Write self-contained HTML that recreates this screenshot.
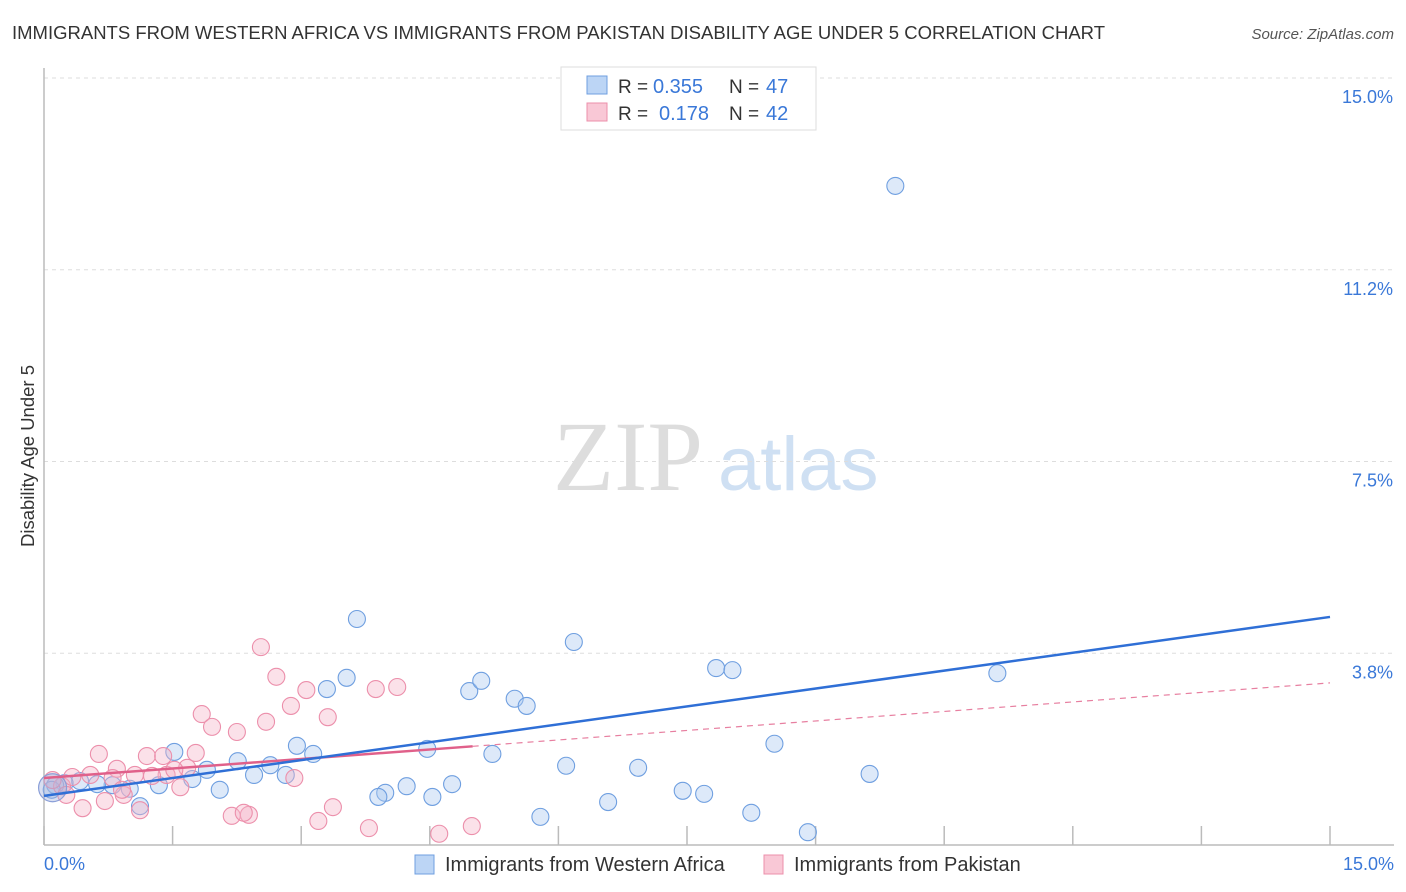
<!DOCTYPE html>
<html><head><meta charset="utf-8"><style>
body{margin:0;background:#fff;font-family:"Liberation Sans",sans-serif}
svg{display:block}
</style></head><body>
<svg width="1406" height="892">
<text x="12" y="39" font-size="18.5" fill="#333">IMMIGRANTS FROM WESTERN AFRICA VS IMMIGRANTS FROM PAKISTAN DISABILITY AGE UNDER 5 CORRELATION CHART</text>
<text x="1394" y="39" font-size="15" fill="#555" font-style="italic" text-anchor="end">Source: ZipAtlas.com</text>
<text x="553" y="490" font-size="100" fill="#ddd" font-family="Liberation Serif">ZIP</text>
<text x="718" y="490" font-size="76" fill="#cfe0f3">atlas</text>
<g id="grid"></g><g id="axes"></g><g id="marks"></g>
<text x="34" y="456" font-size="18.5" fill="#333" text-anchor="middle" transform="rotate(-90 34 456)">Disability Age Under 5</text>
<text x="44" y="870" font-size="18" fill="#3a78d8">0.0%</text>
<text x="1394" y="870" font-size="18" fill="#3a78d8" text-anchor="end">15.0%</text>
<g>
<rect x="561" y="67" width="255" height="63" fill="#fff" stroke="#ddd"/>
<rect x="587" y="76" width="20" height="18" fill="#bcd5f5" stroke="#6f9fe0"/>
<rect x="587" y="103" width="20" height="18" fill="#f9c8d6" stroke="#ec8fab"/>
<text x="618" y="93" font-size="19" fill="#333">R =</text>
<text x="653" y="93" font-size="20" fill="#3a78d8">0.355</text>
<text x="729" y="93" font-size="19" fill="#333">N =</text>
<text x="766" y="93" font-size="20" fill="#3a78d8">47</text>
<text x="618" y="120" font-size="19" fill="#333">R =</text>
<text x="659" y="120" font-size="20" fill="#3a78d8">0.178</text>
<text x="729" y="120" font-size="19" fill="#333">N =</text>
<text x="766" y="120" font-size="20" fill="#3a78d8">42</text>
</g>
<g>
<rect x="415" y="855" width="19" height="19" fill="#bcd5f5" stroke="#6f9fe0"/>
<text x="445" y="871" font-size="20" fill="#333">Immigrants from Western Africa</text>
<rect x="764" y="855" width="19" height="19" fill="#f9c8d6" stroke="#ec8fab"/>
<text x="794" y="871" font-size="20" fill="#333">Immigrants from Pakistan</text>
</g>
</svg>
<script>
const yTicks=[3.75,7.5,11.25,15];
const yTickLabels=["3.8%","7.5%","11.2%","15.0%"];
const xTicks=[0,1.5,3,4.5,6,7.5,9,10.5,12,13.5,15];
const blueX=[9.93,3.65,6.18,7.84,8.03,11.12,3.53,3.30,4.96,5.10,5.49,5.63,2.95,3.14,1.52,2.26,2.64,4.47,5.23,8.52,6.09,6.93,9.63,1.90,2.45,2.82,1.73,1.34,1.00,0.80,0.62,0.42,0.24,0.13,0.09,4.23,3.98,3.90,4.53,4.76,7.45,7.70,6.58,5.79,8.25,8.91,1.12,2.05];
const blueY=[12.89,4.42,3.97,3.46,3.42,3.36,3.27,3.05,3.01,3.21,2.86,2.72,1.94,1.78,1.82,1.64,1.56,1.88,1.78,1.98,1.55,1.51,1.39,1.47,1.37,1.37,1.29,1.17,1.10,1.17,1.19,1.25,1.21,1.17,1.08,1.15,1.02,0.94,0.94,1.19,1.06,1.00,0.84,0.55,0.63,0.25,0.76,1.08];
const pinkX=[2.53,2.71,3.06,3.87,4.12,2.88,1.84,3.31,2.59,2.25,1.96,0.64,1.20,1.39,1.77,1.67,1.06,0.85,0.80,1.43,1.59,1.26,0.21,0.10,0.26,0.45,0.71,0.93,1.12,3.37,3.20,2.39,2.19,2.33,3.79,4.61,4.99,2.92,1.52,0.33,0.54,0.91];
const pinkY=[3.87,3.29,3.03,3.05,3.09,2.72,2.56,2.50,2.41,2.21,2.31,1.78,1.74,1.74,1.80,1.51,1.37,1.49,1.31,1.37,1.13,1.35,1.15,1.27,0.98,0.72,0.86,0.98,0.68,0.74,0.47,0.59,0.57,0.63,0.33,0.22,0.37,1.31,1.47,1.33,1.37,1.08];
const blueTrend=[0.96,4.46];
const pinkTrend=[1.31,3.17];
const pinkSolidEnd=5.0;
const X=v=>44+v*(1330-44)/15, Y=v=>845-v*(845-78)/15;
const NS="http://www.w3.org/2000/svg";
function mk(tag,attrs,parent){const e=document.createElementNS(NS,tag);for(const k in attrs)e.setAttribute(k,attrs[k]);document.getElementById(parent).appendChild(e);return e;}
yTicks.forEach((t,i)=>{
 const l=mk('line',{x1:44,x2:1394,y1:Y(t),y2:Y(t),stroke:'#ddd','stroke-dasharray':'4 4'},'grid');
 
 
 const tx=mk('text',{x:1393,y:Y(t)+25,'font-size':18,fill:'#3a78d8','text-anchor':'end'},'grid');
 tx.textContent=yTickLabels[i];
 
 
});
const ya=mk('line',{x1:44,x2:44,y1:68,y2:845,stroke:'#bbb','stroke-width':1.5},'axes');


const xa=mk('line',{x1:44,x2:1394,y1:845,y2:845,stroke:'#bbb','stroke-width':1.5},'axes');


xTicks.forEach(t=>{
 const l=mk('line',{x1:X(t),x2:X(t),y1:826,y2:845,stroke:'#bbb','stroke-width':1.5},'axes');
 
 
});
blueX.forEach((x,i)=>{
 const c=mk('circle',{cx:X(x),cy:Y(blueY[i]),r:8.5,fill:'rgba(170,200,240,0.4)',stroke:'#6f9fe0','stroke-width':1.1},'marks');
 
 
});
pinkX.forEach((x,i)=>{
 const c=mk('circle',{cx:X(x),cy:Y(pinkY[i]),r:8.5,fill:'rgba(245,180,200,0.4)',stroke:'#ec8fab','stroke-width':1.1},'marks');
 
 
});
const big=mk('circle',{cx:X(0.1),cy:Y(1.12),r:14,fill:'rgba(160,175,220,0.4)',stroke:'#8a9fd8','stroke-width':1.2},'marks');


const py=x=>pinkTrend[0]+(pinkTrend[1]-pinkTrend[0])*x/15;
const pd=mk('line',{x1:X(pinkSolidEnd),y1:Y(py(pinkSolidEnd)),x2:X(15),y2:Y(pinkTrend[1]),stroke:'#e77fa0','stroke-width':1.2,'stroke-dasharray':'6 5'},'marks');


const ps=mk('line',{x1:X(0),y1:Y(pinkTrend[0]),x2:X(pinkSolidEnd),y2:Y(py(pinkSolidEnd)),stroke:'#e0608a','stroke-width':2.5},'marks');


const bl=mk('line',{x1:X(0),y1:Y(blueTrend[0]),x2:X(15),y2:Y(blueTrend[1]),stroke:'#2f6fd6','stroke-width':2.5},'marks');


</script>
</body></html>
